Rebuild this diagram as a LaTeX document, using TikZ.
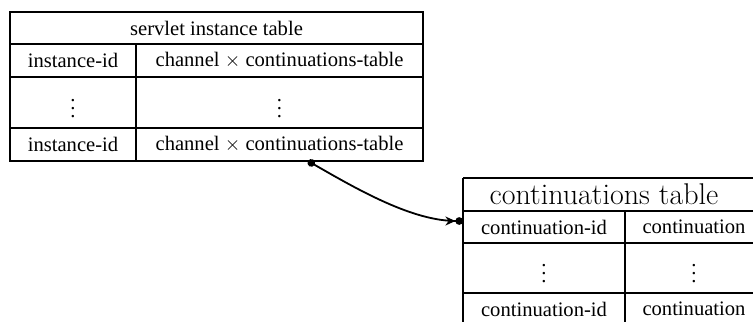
\documentclass[tikz,border=0pt]{standalone}
\usepackage{fontspec}
\newfontfamily\tms{Liberation Serif}
\usetikzlibrary{arrows.meta}
\tikzset{
  tbl/.style={line width=1pt},
  cell/.style={font=\tms\fontsize{10.3}{12}\selectfont, inner sep=0pt},
  bigcell/.style={font=\fontsize{15}{18}\selectfont, inner sep=0pt},
  link/.style={line width=0.9pt, {Circle[length=3.8pt]}-{Stealth[length=5pt,width=4.5pt]Circle[length=3.8pt]}}
}

\begin{document}
\begin{tikzpicture}[x=0.5pt,y=-0.5pt]
			%%%%% START %%%%%
			\useasboundingbox (0,0) rectangle (753,321);
			\clip (0,0) rectangle (753,321);
			
			% servlet instance table
			\draw[tbl] (10,12) rectangle (423,161);
			\draw[tbl] (10,44) -- (423,44);
			\draw[tbl] (10,77) -- (423,77);
			\draw[tbl] (10,128) -- (423,128);
			\draw[tbl] (136,44) -- (136,161);
			
			\node[cell] (stitle) at (216.5,28) {servlet instance table};
			\node[cell] (sida) at (73,60.5) {instance-id};
			\node[cell] (scha) at (279.5,60.5) {channel $\times$ continuations-table};
			\node[cell] (sidv) at (73,102.5) {$\vdots$};
			\node[cell] (schv) at (279.5,102.5) {$\vdots$};
			\node[cell] (sidb) at (73,144.5) {instance-id};
			\node[cell] (schb) at (279.5,144.5) {channel $\times$ continuations-table};
			
			% continuations table
			\draw[tbl] (463,178) -- (770,178);
			\draw[tbl] (463,211) -- (770,211);
			\draw[tbl] (463,243) -- (770,243);
			\draw[tbl] (463,293) -- (770,293);
			\draw[tbl] (463,178) -- (463,330);
			\draw[tbl] (625,211) -- (625,330);
			
			\node[bigcell] (ctitle) at (604,194.5) {continuations table};
			\node[cell] (cida) at (544,227) {continuation-id};
			\node[cell] (ccna) at (694,227) {continuation};
			\node[cell] (cidv) at (544,268) {$\vdots$};
			\node[cell] (ccnv) at (694,268) {$\vdots$};
			\node[cell] (cidb) at (544,309) {continuation-id};
			\node[cell] (ccnb) at (694,309) {continuation};
			
			% pointer
			\coordinate (from) at (308,161);
			\coordinate (to) at (463,221);
			\draw[link] (from) .. controls (360,191) and (413,221) .. (to);
			
			%%%%% END %%%%%
\end{tikzpicture}
\end{document}
